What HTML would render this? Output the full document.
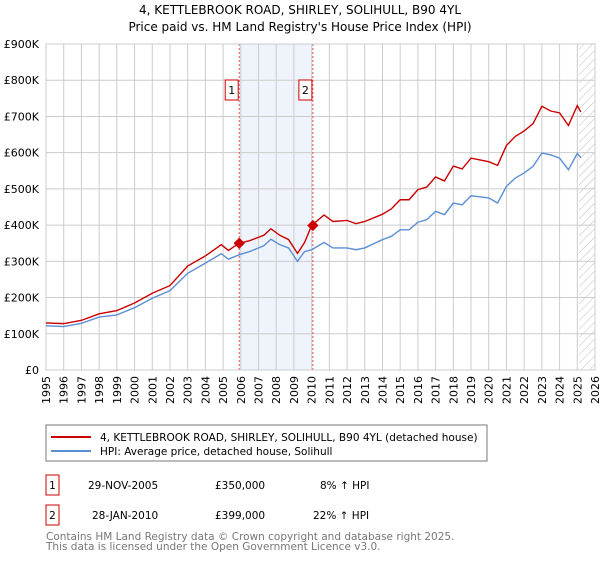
<!DOCTYPE html>
<html><head><meta charset="utf-8"><style>
body{margin:0;background:#fff;font-family:"Liberation Sans","DejaVu Sans",sans-serif;}
svg text{font-family:"DejaVu Sans","Liberation Sans",sans-serif;}
</style></head><body>
<svg id="c" width="600" height="560" xmlns="http://www.w3.org/2000/svg">
<defs><pattern id="hatch" width="6" height="6" patternUnits="userSpaceOnUse" patternTransform="rotate(45)"><line x1="0" y1="0" x2="0" y2="6" stroke="#bbb" stroke-width="1"/></pattern></defs>
<text x="300" y="14" text-anchor="middle" font-size="12">4, KETTLEBROOK ROAD, SHIRLEY, SOLIHULL, B90 4YL</text>
<text x="300" y="31" text-anchor="middle" font-size="12">Price paid vs. HM Land Registry's House Price Index (HPI)</text>
<g id="grid"></g><g id="marks"></g>
<g>
<rect x="46" y="425" width="441" height="36" fill="#fff" stroke="#777"/>
<line x1="51" y1="437" x2="91" y2="437" stroke="#cc0000" stroke-width="2"/>
<text x="100" y="441" font-size="10.5">4, KETTLEBROOK ROAD, SHIRLEY, SOLIHULL, B90 4YL (detached house)</text>
<line x1="51" y1="451" x2="91" y2="451" stroke="#5b8fd4" stroke-width="2"/>
<text x="100" y="455" font-size="10.5">HPI: Average price, detached house, Solihull</text>
</g>
<g font-size="10.5">
<rect x="46" y="475" width="13" height="20" fill="none" stroke="#cc0000"/><text x="52.5" y="489" text-anchor="middle">1</text>
<text x="88" y="489">29-NOV-2005</text><text x="215" y="489">£350,000</text><text x="320" y="489">8% ↑ HPI</text>
<rect x="46" y="505" width="13" height="20" fill="none" stroke="#cc0000"/><text x="52.5" y="519" text-anchor="middle">2</text>
<text x="92" y="519">28-JAN-2010</text><text x="215" y="519">£399,000</text><text x="313" y="519">22% ↑ HPI</text>
</g>
<text x="46" y="540" font-size="10.5" fill="#777">Contains HM Land Registry data © Crown copyright and database right 2025.</text>
<text x="46" y="550" font-size="10.5" fill="#777">This data is licensed under the Open Government Licence v3.0.</text>
</svg>
<script>
const years=[1995,1996,1997,1998,1999,2000,2001,2002,2003,2004,2004.9,2005.3,2005.9,2006.5,2007.3,2007.7,2008.2,2008.7,2009.2,2009.6,2010.0,2010.7,2011.2,2012,2012.5,2013,2014,2014.5,2015,2015.5,2016,2016.5,2017,2017.5,2018,2018.5,2019,2019.5,2020,2020.5,2021,2021.5,2022,2022.5,2023,2023.5,2024,2024.5,2025,2025.2];
const hpi=[122,120,129,146,152,172,198,219,267,295,321,306,318,327,343,361,346,337,300,327,332,352,337,337,332,337,360,369,387,387,408,415,438,429,461,456,481,478,475,461,507,530,544,562,599,594,585,553,598,586];
const price=[130,128,137,155,164,185,212,233,287,315,346,330,350,357,372,390,372,360,322,352,399,428,410,413,404,410,430,445,470,470,498,505,533,522,563,555,585,580,575,565,620,645,660,680,728,715,710,675,730,712];
const saleYears=[2005.91,2010.07];
const saleValues=[350,399];
const saleLabels=["1","2"];
const yTicks=[0,100,200,300,400,500,600,700,800,900];
const yTickLabels=["£0","£100K","£200K","£300K","£400K","£500K","£600K","£700K","£800K","£900K"];
const xTicks=[1995,1996,1997,1998,1999,2000,2001,2002,2003,2004,2005,2006,2007,2008,2009,2010,2011,2012,2013,2014,2015,2016,2017,2018,2019,2020,2021,2022,2023,2024,2025,2026];
const L=46,R=595,T=44,B=370;
const x=v=>L+(v-1995)/(2026-1995)*(R-L);
const y=v=>B-v/900*(B-T);
const NS="http://www.w3.org/2000/svg";
function mk(tag,attrs,parent,txt){const e=document.createElementNS(NS,tag);for(const k in attrs)e.setAttribute(k,attrs[k]);if(txt!==undefined)e.textContent=txt;parent.appendChild(e);return e;}
const g=document.getElementById('grid'),m=document.getElementById('marks');
let sh=mk('rect',{x:x(saleYears[0]),y:T,width:x(saleYears[1])-x(saleYears[0]),height:B-T,fill:'#eef3fc'},g);


let hz=mk('rect',{x:x(2025.1),y:T,width:R-x(2025.1),height:B-T,fill:'url(#hatch)'},g);


yTicks.forEach((v,i)=>{mk('line',{x1:L,x2:R,y1:y(v),y2:y(v),stroke:'#ccc'},g);
const t=mk('text',{x:L-7,y:y(v)+4,'text-anchor':'end','font-size':11},g,yTickLabels[i]);

});
xTicks.forEach(v=>{mk('line',{x1:x(v),x2:x(v),y1:T,y2:B,stroke:'#ccc'},g);
const t=mk('text',{x:0,y:0,'text-anchor':'end','font-size':11,transform:`translate(${x(v)+4},${B+6}) rotate(-90)`},g,String(v));

});
saleYears.forEach((v,i)=>{mk('line',{x1:x(v),x2:x(v),y1:T,y2:B,stroke:'#e05050','stroke-dasharray':'2,2'},g);
const b=mk('g',{},m);


mk('rect',{x:x(v)-14,y:80,width:13,height:20,fill:'#fff',stroke:'#cc0000'},b);
mk('text',{x:x(v)-7.5,y:94,'text-anchor':'middle','font-size':11},b,saleLabels[i]);});
function line(vals,col,name){const p=mk('polyline',{points:years.map((yr,i)=>x(yr)+','+y(vals[i])).join(' '),fill:'none',stroke:col,'stroke-width':1.4},m);

}
line(hpi,'#5b8fd4','hpi-line');
line(price,'#cc0000','price-line');
saleYears.forEach((v,i)=>{const d=mk('rect',{x:x(v)-4,y:y(saleValues[i])-4,width:8,height:8,fill:'#cc0000',transform:`rotate(45 ${x(v)} ${y(saleValues[i])})`},m);

});
mk('rect',{x:L,y:T,width:R-L,height:B-T,fill:'none',stroke:'#ccc'},g);
</script>
</body></html>
